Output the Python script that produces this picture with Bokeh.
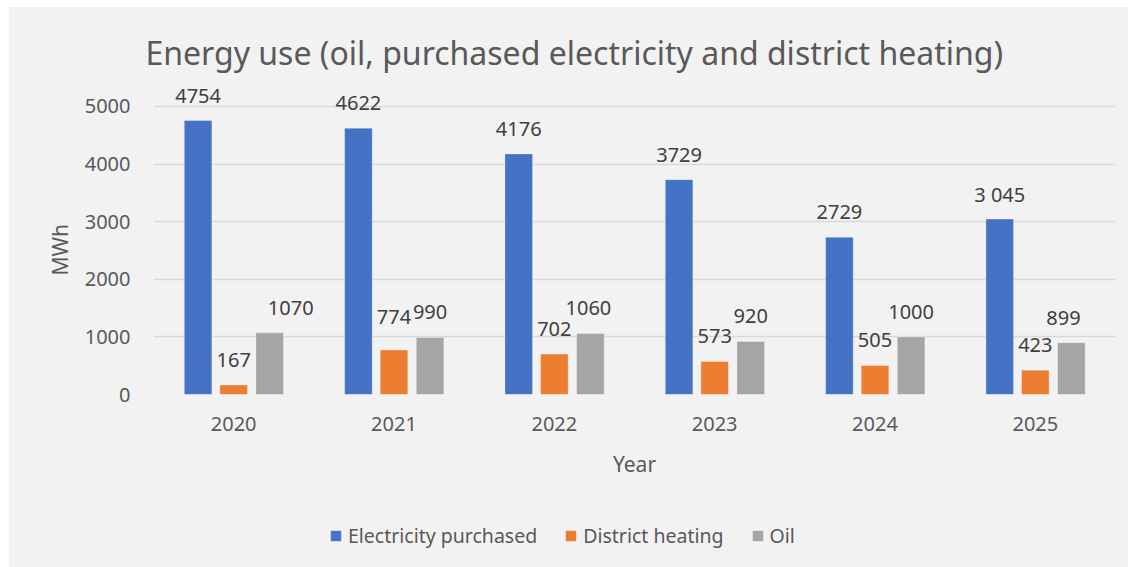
from bokeh.plotting import figure
from bokeh.models import (ColumnDataSource, FactorRange, Range1d, FixedTicker,
                          Legend, LegendItem, Spacer, Title)
from bokeh.layouts import column, row
from bokeh.transform import dodge
from bokeh.core.properties import value
from bokeh.embed import file_html
from bokeh.resources import INLINE

# ---- data ----
years = ["2020", "2021", "2022", "2023", "2024", "2025"]
electricity = [4754, 4622, 4176, 3729, 2729, 3045]
district = [167, 774, 702, 573, 505, 423]
oil = [1070, 990, 1060, 920, 1000, 899]
electricity_labels = ["4754", "4622", "4176", "3729", "2729", "3 045"]
district_labels = ["167", "774", "702", "573", "505", "423"]
oil_labels = ["1070", "990", "1060", "920", "1000", "899"]
series_names = ["Electricity purchased", "District heating", "Oil"]
y_ticks = [0, 1000, 2000, 3000, 4000, 5000]

# label nudges (pixels) as placed in the original
elec_dx = [0, 0, 0, 0, 0, 0]
elec_dy = [0, 0, 0, 0, 0, 0]
dist_dx = [0, 0, 0, 0, 0, 0]
dist_dy = [0, -8, 0, 0, 0, 0]
oil_dx = [21, 0, -2, 0, 0, -8]
oil_dy = [0, 0, 0, 0, 0, 0]

colors = ["#4472c4", "#ed7d31", "#a5a5a5"]
BG = "#f2f2f2"
TXT = "#595959"
LBL = "#404040"
FONT = "Noto Sans"

W, H, HL = 1119, 500, 60
xr = FactorRange(factors=years)
p = figure(x_range=xr, y_range=Range1d(0, 5450),
           width=W, height=H, output_backend="svg", toolbar_location=None,
           background_fill_color=BG, border_fill_color=BG, outline_line_color=None,
           min_border_left=144, min_border_right=13, min_border_top=73,
           min_border_bottom=113)

# legend strip (its own small canvas below the chart, sharing the x scale)
pl = figure(x_range=xr, y_range=Range1d(-1000, -999), width=W, height=HL,
            output_backend="svg", toolbar_location=None,
            background_fill_color=BG, border_fill_color=BG, outline_line_color=None,
            min_border=0, x_axis_type=None, y_axis_type=None)
pl.grid.visible = False
pl.background_fill_alpha = 1
pl.border_fill_alpha = 1

offsets = [-0.222, 0.0, 0.225]
values_list = [electricity, district, oil]
labels_list = [electricity_labels, district_labels, oil_labels]
dxs = [elec_dx, dist_dx, oil_dx]
dys = [elec_dy, dist_dy, oil_dy]

items = []
for i in range(3):
    src = ColumnDataSource(dict(x=years, y=values_list[i], t=labels_list[i],
                                dx=dxs[i], dy=[d - 25 for d in dys[i]]))
    p.vbar(x=dodge("x", offsets[i], range=xr), top="y", width=0.172,
           source=src, fill_color=colors[i], line_color="white",
           line_alpha=0.3, line_width=1)
    p.text(x=dodge("x", offsets[i], range=xr), y="y", text="t", source=src,
           x_offset="dx", y_offset="dy", text_align="center", text_baseline="middle",
           text_font=value(FONT), text_font_size="20px", text_color=LBL)
    # same series on the legend strip (zero width, only used for the key)
    r = pl.vbar(x=dodge("x", offsets[i], range=xr), top="y", width=0,
                source=src, fill_color=colors[i], line_color=None)
    items.append(LegendItem(label=series_names[i], renderers=[r]))

# axes
p.yaxis.ticker = FixedTicker(ticks=y_ticks)
p.ygrid.ticker = FixedTicker(ticks=y_ticks)
p.ygrid.grid_line_color = "#d9d9d9"
p.ygrid.grid_line_width = 1.5
p.xgrid.grid_line_color = None

for ax in (p.xaxis[0], p.yaxis[0]):
    ax.axis_line_color = None
    ax.major_tick_line_color = None
    ax.minor_tick_line_color = None
    ax.major_label_text_font = FONT
    ax.major_label_text_font_size = "20px"
    ax.major_label_text_color = TXT
    ax.axis_label_text_font = FONT
    ax.axis_label_text_font_size = "21px"
    ax.axis_label_text_font_style = "normal"
    ax.axis_label_text_color = TXT

p.yaxis.major_label_standoff = 17
p.xaxis.axis_label = "Year"
p.xaxis.major_label_standoff = 16
p.xaxis.axis_label_standoff = 16

# y-axis name, placed level with the middle of the 0-5000 scale
ytitle = Title(text="MWh", align="left", offset=119, standoff=16,
               text_font=FONT, text_font_size="21px", text_font_style="normal",
               text_color=TXT)
p.add_layout(ytitle, "left")

# title
p.title.text = "Energy use (oil, purchased electricity and district heating)"
p.title.align = "left"
p.title.offset = -8
p.title.standoff = 13
p.title.text_font = FONT
p.title.text_font_size = "32px"
p.title.text_font_style = "normal"
p.title.text_color = TXT

legend = Legend(items=items, orientation="horizontal", location=(176, 18),
                glyph_width=13, glyph_height=13, label_standoff=6, spacing=27,
                padding=0, margin=0, border_line_color=None,
                background_fill_alpha=0,
                label_text_font=FONT, label_text_font_size="19.5px",
                label_text_color=TXT)
pl.add_layout(legend, "center")

inner = column(p, pl, spacing=0, styles={"background-color": BG})
layout = column(Spacer(height=7), row(Spacer(width=9), inner))
open("out.html", "w").write(file_html(layout, INLINE))
